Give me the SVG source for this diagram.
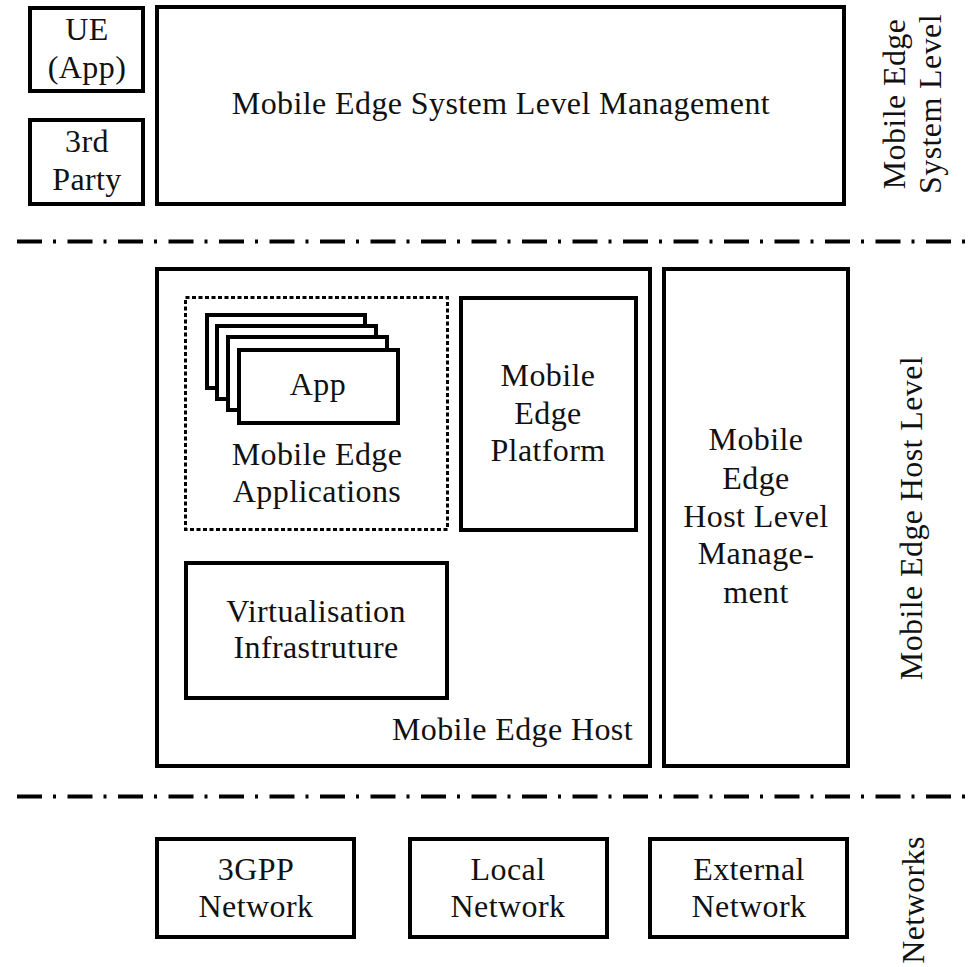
<svg xmlns="http://www.w3.org/2000/svg" width="974" height="967" viewBox="0 0 974 967">
  <style>
    .box { fill: #ffffff; stroke: #000000; stroke-width: 4; }
    .dotted { fill: none; stroke: #000000; stroke-width: 3; stroke-dasharray: 4 2.5; }
    .sep { fill: none; stroke: #000000; stroke-width: 4; stroke-dasharray: 25 11 3 11.5; }
    text { font-family: "Liberation Serif", "DejaVu Serif", serif; font-size: 32px; letter-spacing: 0.4px; fill: #111111; text-anchor: middle; }
    .right { text-anchor: end; }
  </style>

  <rect width="974" height="967" fill="#ffffff"/>

  <!-- level separators -->
  <g id="separators">
    <line class="sep" x1="17" y1="241.5" x2="972" y2="241.5"/>
    <line class="sep" x1="17" y1="796.5" x2="972" y2="796.5"/>
  </g>

  <!-- system level -->
  <g id="ue-app">
    <rect class="box" x="30" y="8" width="113" height="83"/>
    <text x="87" y="40">UE</text>
    <text x="87" y="78">(App)</text>
  </g>
  <g id="third-party">
    <rect class="box" x="30" y="120" width="113" height="84"/>
    <text x="87" y="152">3rd</text>
    <text x="87" y="190">Party</text>
  </g>
  <g id="system-level-management">
    <rect class="box" x="157" y="7" width="687" height="197"/>
    <text x="501" y="114">Mobile Edge System Level Management</text>
  </g>

  <!-- host level -->
  <g id="mobile-edge-host">
    <rect class="box" x="157" y="269" width="493" height="497"/>
    <text class="right" x="633" y="740">Mobile Edge Host</text>
  </g>
  <g id="mobile-edge-applications">
    <rect class="dotted" x="185.5" y="297.5" width="262" height="232"/>
    <rect class="box" x="207" y="315" width="158" height="73"/>
    <rect class="box" x="217" y="326" width="159" height="73"/>
    <rect class="box" x="228" y="337" width="159" height="73"/>
    <rect class="box" x="239" y="350" width="159" height="73"/>
    <text x="318" y="395">App</text>
    <text x="317" y="465">Mobile Edge</text>
    <text x="317" y="502">Applications</text>
  </g>
  <g id="mobile-edge-platform">
    <rect class="box" x="461" y="298" width="175" height="232"/>
    <text x="548" y="386">Mobile</text>
    <text x="548" y="424">Edge</text>
    <text x="548" y="461">Platform</text>
  </g>
  <g id="virtualisation-infrastructure">
    <rect class="box" x="186" y="563" width="261" height="135"/>
    <text x="316" y="622">Virtualisation</text>
    <text x="316" y="658">Infrastruture</text>
  </g>
  <g id="host-level-management">
    <rect class="box" x="664" y="269" width="184" height="497"/>
    <text x="756" y="450">Mobile</text>
    <text x="756" y="489">Edge</text>
    <text x="756" y="527">Host Level</text>
    <text x="756" y="564">Manage-</text>
    <text x="756" y="603">ment</text>
  </g>

  <!-- networks -->
  <g id="network-3gpp">
    <rect class="box" x="157" y="839" width="197" height="98"/>
    <text x="256" y="880">3GPP</text>
    <text x="256" y="917">Network</text>
  </g>
  <g id="network-local">
    <rect class="box" x="410" y="839" width="197" height="98"/>
    <text x="508" y="880">Local</text>
    <text x="508" y="917">Network</text>
  </g>
  <g id="network-external">
    <rect class="box" x="650" y="839" width="197" height="98"/>
    <text x="749" y="880">External</text>
    <text x="749" y="917">Network</text>
  </g>

  <!-- level labels -->
  <g id="level-labels">
    <text transform="translate(905 104) rotate(-90)">Mobile Edge</text>
    <text transform="translate(941 104) rotate(-90)">System Level</text>
    <text transform="translate(922 518) rotate(-90)">Mobile Edge Host Level</text>
    <text transform="translate(924 900) rotate(-90)">Networks</text>
  </g>
</svg>
